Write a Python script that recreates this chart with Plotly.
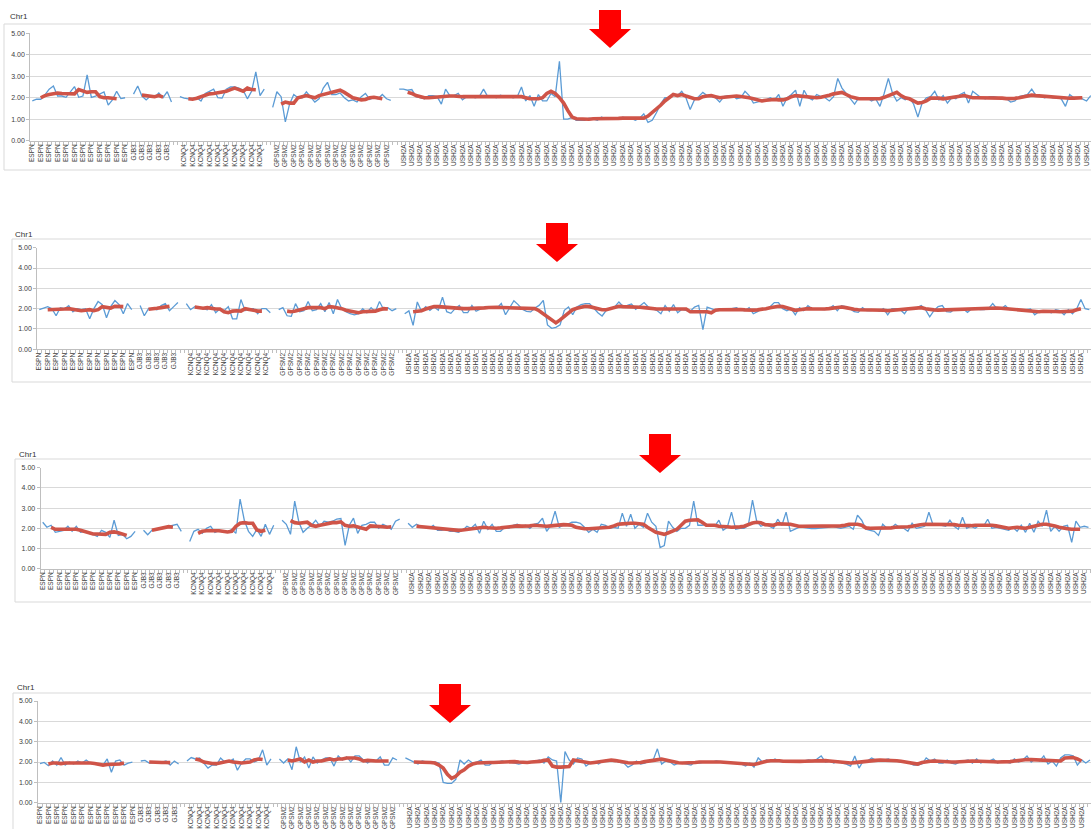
import plotly.graph_objects as go

# ---------------- data ----------------
GENES = ["ESPN", "GJB3", "KCNQ4", "GPSM2", "USH2A"]
GENE_START = [0, 24, 35, 57, 87]   # first category slot of each gene (one empty slot between genes)
AVG_OFFSET = 2                     # the moving-average line starts 2 slots into each gene
Y_TICKS = [0, 1, 2, 3, 4, 5]
Y_TICK_TEXT = ["0.00", "1.00", "2.00", "3.00", "4.00", "5.00"]
PANEL_TITLE = "Chr1"

# ---- panel 1 ----
P1_ESPN = [1.85, 1.93, 1.93, 2.13, 2.4, 2.55, 2.08, 2.08, 2.02, 2.28, 2.52, 2.02, 2.08, 3.06, 2.02, 2.08, 2.17, 2.27, 1.66, 1.9, 2.3, 1.96, 2.0]
P1_ESPN_AVG = [2.0, 2.1, 2.15, 2.2, 2.22, 2.2, 2.2, 2.18, 2.18, 2.38, 2.32, 2.25, 2.28, 2.28, 2.05, 2.0, 2.0, 1.98, 1.95]
P1_GJB3 = [2.17, 2.55, 2.08, 1.9, 2.08, 2.02, 2.22, 2.0, 2.28, 1.8]
P1_GJB3_AVG = [2.12, 2.1, 2.05, 2.05, 2.1, 2.03]
P1_KCNQ4 = [2.05, 1.98, 1.95, 1.98, 2.0, 1.85, 2.2, 2.3, 2.4, 2.0, 1.98, 2.4, 2.5, 2.5, 2.45, 2.35, 1.95, 2.3, 3.2, 2.1, 2.4]
P1_KCNQ4_AVG = [1.95, 1.93, 1.98, 2.05, 2.15, 2.18, 2.2, 2.22, 2.25, 2.3, 2.38, 2.45, 2.38, 2.3, 2.45, 2.38, 2.37]
P1_GPSM2 = [1.55, 2.28, 2.05, 0.88, 1.7, 2.15, 2.0, 2.0, 2.28, 2.05, 1.8, 1.95, 2.45, 2.72, 2.15, 2.15, 2.22, 2.0, 1.85, 1.9,
            1.8, 2.05, 2.2, 1.92, 2.0, 1.95, 2.15, 1.95, 1.88]
P1_GPSM2_AVG = [1.7, 1.8, 1.75, 1.75, 2.0, 2.05, 2.1, 2.05, 2.0, 2.1, 2.15, 2.2, 2.25, 2.3, 2.35, 2.25, 2.1, 2.0, 1.95, 1.9,
                1.92, 2.0, 2.02, 1.98, 1.95]
P1_USH2A = [2.4,
            2.4, 2.35, 2.38, 2.05, 2.0, 1.95, 2.1, 2.1, 2.05, 1.7, 2.4, 2.1,
            2.1, 2.2, 1.9, 2.05, 2.1, 2.0, 2.05, 2.4, 2.05, 2.1,
            2.0, 2.12, 2.05, 2.08, 2.0, 2.05, 2.5, 1.85, 2.1, 1.6,
            2.15, 1.85, 1.85, 2.2, 2.05, 3.7, 1.0, 1.0, 1.08, 0.95,
            0.95, 0.95, 1.05, 1.02, 0.95, 1.1, 1.0, 1.0, 1.05, 1.0,
            1.1, 1.05, 1.05, 0.95, 1.05, 1.25, 0.85, 0.95, 1.3, 1.7,
            2.0, 2.0, 2.15, 2.1, 2.3, 2.0, 1.45, 1.9, 2.05, 2.25,
            2.1, 2.05, 2.0, 1.8, 2.05, 2.1, 2.1, 1.95, 2.0, 2.3,
            2.1, 1.75, 1.8, 1.85, 1.9, 2.0, 1.9, 2.15, 1.6, 2.0,
            2.15, 2.35, 1.6, 2.35, 2.0, 1.9, 2.15, 2.05, 2.0, 1.85,
            2.05, 2.9, 2.45, 2.2, 1.95, 1.7, 2.0, 1.95, 2.0, 1.85,
            1.95, 1.6, 2.2, 2.9, 2.2, 1.85, 2.0, 1.9, 2.0, 1.7,
            1.1, 1.75, 2.0, 2.05, 2.3, 1.9, 2.1, 1.75, 2.0, 1.95,
            2.15, 2.25, 1.75, 2.3, 2.15, 2.0, 1.95, 2.05, 2.05, 2.0,
            2.0, 1.95, 1.8, 1.85, 2.05, 2.1, 2.15, 2.4, 2.1, 2.1,
            2.0, 2.05, 2.0, 2.0, 1.95, 1.6, 2.15, 2.0, 2.0, 1.95,
            1.85, 2.1]
P1_USH2A_AVG = [2.25,
                2.2, 2.1, 2.05, 2.0, 2.0, 2.02, 2.05, 2.05, 2.08, 2.08,
                2.08, 2.05, 2.05, 2.05, 2.05, 2.07, 2.08, 2.08, 2.08, 2.08,
                2.07, 2.06, 2.05, 2.05, 2.05, 2.05, 2.05, 2.0, 1.95, 1.95,
                1.95, 2.0, 2.2, 2.3, 2.2, 2.0, 1.75, 1.4, 1.1, 1.02,
                1.0, 1.0, 1.0, 1.02, 1.02, 1.0, 1.02, 1.03, 1.03, 1.04,
                1.05, 1.05, 1.03, 1.05, 1.05, 1.05, 1.15, 1.3, 1.5, 1.65,
                1.85, 2.0, 2.15, 2.1, 2.15, 2.08, 2.0, 1.95, 1.95, 2.05,
                2.08, 2.1, 2.05, 2.0, 2.02, 2.05, 2.07, 2.08, 2.06, 2.05,
                2.0, 1.95, 1.9, 1.85, 1.88, 1.92, 1.92, 1.9, 1.9, 1.95,
                2.05, 2.1, 2.08, 2.08, 2.04, 2.0, 2.0, 2.02, 2.05, 2.12,
                2.18, 2.22, 2.25, 2.15, 2.05, 2.0, 1.95, 1.95, 1.95, 1.93,
                1.92, 1.95, 2.02, 2.1, 2.2, 2.25, 2.1, 2.0, 1.95, 1.85,
                1.75, 1.78, 1.85, 1.98, 2.0, 1.98, 1.95, 1.98, 2.0, 2.03,
                2.06, 2.1, 2.05, 2.0, 2.0, 2.0, 2.0, 2.02, 2.02, 2.0,
                1.98, 1.96, 1.95, 1.97, 2.0, 2.05, 2.1, 2.12, 2.1, 2.08,
                2.06, 2.04, 2.03, 2.01, 1.98, 1.98, 1.98, 1.98, 1.99, 2.0]

# ---- panel 2 ----
P2_ESPN = [1.95, 2.02, 2.1, 2.0, 1.65, 2.05, 2.0, 2.15, 1.85, 2.0, 1.95, 2.0, 1.5, 2.0, 2.35, 2.2, 1.55, 2.1, 2.4, 2.2, 1.75, 2.25, 1.95]
P2_ESPN_AVG = [1.95, 1.95, 1.95, 1.95, 1.98, 2.0, 1.97, 1.95, 1.9, 1.92, 1.95, 1.9, 1.95, 2.1, 2.08, 2.03, 2.12, 2.12, 2.1]
P2_GJB3 = [2.15, 1.65, 2.0, 2.0, 1.95, 2.15, 2.25, 1.9, 2.1, 2.3]
P2_GJB3_AVG = [1.97, 1.98, 2.02, 2.05, 2.08, 2.12]
P2_KCNQ4 = [2.25, 1.95, 2.1, 2.05, 2.0, 1.95, 2.2, 1.8, 2.0, 1.9, 2.1, 1.5, 1.5, 2.45, 1.9, 2.0, 2.0, 1.75, 2.0, 2.0, 1.8]
P2_KCNQ4_AVG = [2.08, 2.05, 2.02, 2.05, 2.0, 1.98, 1.98, 1.85, 1.8, 1.88, 1.9, 1.88, 2.0, 1.95, 1.9, 1.88, 1.88]
P2_GPSM2 = [1.95, 2.05, 1.65, 1.62, 2.25, 1.85, 1.9, 2.35, 1.9, 1.95, 2.25, 1.85, 2.3, 1.75, 2.45, 2.0, 1.85, 1.75, 1.7, 1.75,
            2.0, 1.8, 2.05, 1.85, 2.35, 1.95, 2.05, 1.9, 2.0]
P2_GPSM2_AVG = [1.88, 1.85, 1.88, 1.92, 2.0, 2.05, 2.05, 2.02, 2.05, 2.0, 2.1, 2.08, 2.05, 2.0, 1.92, 1.88, 1.82, 1.8, 1.85, 1.85,
                1.85, 1.88, 1.95, 2.0, 1.98]
P2_USH2A = [1.75, 1.89, 1.18, 2.33, 1.87, 2.1, 1.92, 2.08, 1.92, 2.57, 1.85, 1.77, 2.0,
            2.16, 1.8, 1.8, 2.16, 1.87, 1.97, 2.08, 2.03, 2.08, 2.03,
            2.25, 1.7, 2.08, 2.39, 2.2, 1.97, 1.87, 1.84, 2.03, 2.16,
            2.41, 1.2, 1.03, 1.08, 1.2, 1.92, 2.08, 1.7, 2.08, 2.2,
            2.25, 2.25, 2.03, 1.8, 1.64, 1.92, 2.0, 2.08, 2.33, 2.11,
            2.16, 2.23, 1.97, 2.16, 2.3, 2.08, 2.0, 1.92, 1.75, 2.16,
            1.87, 2.2, 1.8, 1.97, 1.92, 1.87, 2.08, 2.16, 0.97, 2.08,
            2.0, 1.92, 2.0, 1.95, 1.97, 2.0, 2.05, 1.92, 1.9, 2.05,
            1.75, 1.85, 1.98, 1.95, 2.1, 2.3, 2.3, 2.0, 1.9, 2.0,
            1.7, 2.05, 1.9, 2.15, 2.0, 1.98, 1.98, 1.95, 2.0, 2.15,
            1.9, 2.15, 2.1, 2.0, 1.85, 1.82, 2.05, 1.9, 1.9, 1.95,
            1.88, 2.0, 1.7, 2.0, 2.0, 1.95, 1.75, 2.05, 2.0, 2.05,
            2.15, 1.95, 1.6, 1.9, 2.1, 2.15, 1.85, 1.83, 2.0, 2.0,
            1.98, 1.82, 2.0, 2.0, 1.95, 1.95, 2.0, 2.25, 2.0, 2.0,
            2.15, 1.95, 1.95, 1.95, 1.92, 1.95, 1.98, 1.7, 1.85, 1.9,
            1.85, 1.8, 1.95, 1.9, 1.7, 1.95, 1.75, 2.0, 2.45, 2.0,
            1.95]
P2_USH2A_AVG = [1.85,
                1.87, 1.9, 1.98, 2.05, 2.1, 2.1, 2.08, 2.05, 2.03, 2.0,
                2.0, 2.0, 2.0, 2.0, 2.0, 2.02, 2.04, 2.06, 2.08, 2.07,
                2.06, 2.05, 2.05, 2.05, 2.05, 2.03, 2.0, 1.98, 2.0, 1.9,
                1.75, 1.6, 1.4, 1.3, 1.45, 1.62, 1.8, 1.95, 2.02, 2.08,
                2.12, 2.1, 2.05, 1.98, 1.95, 1.95, 2.02, 2.08, 2.12, 2.1,
                2.1, 2.1, 2.1, 2.07, 2.05, 2.02, 1.98, 1.98, 1.98, 1.98,
                1.98, 1.98, 1.98, 1.98, 1.98, 1.85, 1.85, 1.85, 1.85, 1.85,
                1.8, 1.92, 1.95, 1.96, 1.97, 1.98, 1.98, 1.96, 1.94, 1.92,
                1.93, 1.94, 1.96, 2.0, 2.05, 2.1, 2.12, 2.1, 2.03, 1.97,
                1.92, 1.95, 1.98, 2.0, 1.99, 1.98, 1.98, 1.98, 2.0, 2.04,
                2.06, 2.08, 2.05, 2.0, 1.97, 1.95, 1.95, 1.95, 1.95, 1.94,
                1.93, 1.92, 1.9, 1.92, 1.95, 1.97, 1.98, 1.99, 2.0, 2.03,
                2.05, 2.0, 1.95, 1.94, 1.93, 1.94, 1.95, 1.96, 1.97, 1.97,
                1.97, 1.98, 1.98, 1.99, 1.99, 2.0, 2.01, 2.02, 2.03, 2.02,
                2.0, 1.99, 1.98, 1.97, 1.95, 1.93, 1.9, 1.87, 1.85, 1.87,
                1.88, 1.87, 1.86, 1.85, 1.85, 1.85, 1.88, 1.95, 2.0]

# ---- panel 3 ----
P3_ESPN = [2.3, 2.05, 2.15, 1.8, 1.85, 1.9, 2.1, 1.85, 2.1, 1.8, 1.85, 1.75, 1.7, 1.6, 1.9, 1.8, 1.55, 2.4, 1.65, 1.7, 1.48, 1.6, 1.85]
P3_ESPN_AVG = [2.05, 1.95, 1.95, 1.93, 1.95, 1.95, 1.95, 1.9, 1.85, 1.8, 1.72, 1.72, 1.72, 1.7, 1.8, 1.82, 1.78, 1.72, 1.65]
P3_GJB3 = [1.9, 1.68, 1.9, 1.95, 2.0, 2.05, 2.1, 2.15, 2.2, 1.85]
P3_GJB3_AVG = [1.9, 1.95, 2.0, 2.05, 2.08, 2.05]
P3_KCNQ4 = [1.35, 1.85, 1.95, 1.75, 2.0, 2.1, 1.8, 1.9, 1.85, 1.8, 1.95, 1.75, 3.45, 2.4, 1.85, 1.6, 1.95, 1.6, 2.2, 1.7, 2.15]
P3_KCNQ4_AVG = [1.75, 1.85, 1.88, 1.9, 1.88, 1.88, 1.85, 1.82, 1.85, 2.1, 2.25, 2.28, 2.25, 2.25, 1.92, 1.85, 1.9]
P3_GPSM2 = [2.4, 2.2, 1.7, 3.35, 2.3, 1.8, 2.0, 2.15, 2.4, 2.1, 2.35, 2.3, 2.35, 2.45, 2.48, 1.15, 2.15, 2.5, 1.75, 2.15,
            2.2, 2.3, 2.3, 2.0, 2.2, 2.1, 1.95, 2.35, 2.45]
P3_GPSM2_AVG = [2.38, 2.28, 2.25, 2.28, 2.3, 2.15, 2.1, 2.15, 2.2, 2.25, 2.28, 2.28, 2.32, 2.15, 2.1, 2.12, 2.05, 1.98, 1.95, 2.12,
                2.12, 2.1, 2.08, 2.05, 2.08]
P3_USH2A = [2.25, 2.05, 2.2, 2.1, 2.05, 2.0, 2.15, 1.9, 1.9, 1.95, 1.85, 1.85, 1.8,
            1.9, 2.1, 2.0, 2.2, 1.75, 2.35, 1.95, 2.2, 1.85, 1.85,
            2.05, 2.0, 2.15, 2.2, 2.1, 2.15, 2.0, 2.2, 2.25, 2.5,
            1.85, 2.15, 2.85, 2.05, 2.15, 2.2, 2.3, 2.3, 2.25, 2.05,
            1.8, 1.95, 1.8, 2.2, 2.15, 2.0, 2.05, 2.0, 2.75, 2.1,
            2.7, 2.0, 2.2, 2.05, 2.75, 2.3, 2.1, 1.05, 1.15, 2.35,
            2.05, 1.85, 2.0, 2.0, 2.15, 3.35, 2.15, 2.15, 2.2, 2.1,
            2.1, 2.4, 1.9, 2.05, 2.8, 1.95, 2.0, 2.0, 2.15, 3.4,
            2.35, 2.1, 2.2, 2.1, 2.0, 2.45, 2.15, 2.8, 1.85, 1.95,
            2.05, 2.05, 2.0, 1.98, 1.98, 2.0, 2.0, 2.05, 2.1, 2.05,
            2.0, 2.05, 2.1, 1.95, 2.65, 2.4, 1.95, 1.9, 1.85, 1.65,
            2.2, 2.0, 2.0, 2.2, 2.05, 2.0, 1.85, 2.25, 2.0, 2.05,
            2.1, 2.8, 2.15, 2.15, 2.15, 2.1, 2.4, 2.1, 1.95, 2.55,
            2.0, 2.1, 2.0, 2.15, 2.1, 2.45, 2.0, 2.05, 2.0, 1.98,
            1.9, 2.05, 1.85, 2.15, 1.8, 2.25, 1.8, 2.35, 2.1, 2.9,
            1.85, 2.1, 1.85, 2.1, 2.15, 1.3, 2.35, 2.05, 2.1, 2.05]
P3_USH2A_AVG = [2.1,
                2.08, 2.05, 2.04, 2.02, 2.0, 1.98, 1.95, 1.93, 1.92, 1.9,
                1.92, 1.95, 1.97, 2.0, 2.02, 2.05, 2.03, 2.0, 2.0, 2.02,
                2.05, 2.08, 2.1, 2.12, 2.11, 2.1, 2.12, 2.15, 2.13, 2.11,
                2.1, 2.12, 2.15, 2.17, 2.18, 2.17, 2.15, 2.05, 2.0, 1.98,
                1.98, 1.99, 2.0, 2.02, 2.04, 2.05, 2.12, 2.2, 2.22, 2.25,
                2.25, 2.25, 2.23, 2.2, 2.05, 1.9, 1.8, 1.75, 1.7, 1.78,
                1.85, 1.95, 2.15, 2.35, 2.4, 2.4, 2.42, 2.3, 2.15, 2.15,
                2.15, 2.1, 2.1, 2.08, 2.05, 2.05, 2.07, 2.1, 2.2, 2.26,
                2.3, 2.28, 2.18, 2.15, 2.15, 2.22, 2.22, 2.2, 2.2, 2.15,
                2.1, 2.1, 2.1, 2.09, 2.08, 2.09, 2.1, 2.12, 2.12, 2.12,
                2.12, 2.15, 2.2, 2.2, 2.2, 2.15, 2.02, 2.0, 2.0, 2.0,
                2.0, 2.0, 2.02, 2.05, 2.05, 2.05, 2.08, 2.1, 2.15, 2.18,
                2.2, 2.2, 2.18, 2.18, 2.19, 2.2, 2.2, 2.18, 2.15, 2.13,
                2.12, 2.13, 2.15, 2.16, 2.17, 2.18, 2.15, 2.12, 2.08, 2.03,
                2.0, 2.03, 2.05, 2.02, 2.0, 2.05, 2.1, 2.15, 2.2, 2.2,
                2.18, 2.12, 2.05, 2.0, 1.98, 1.95, 1.95, 1.95]

# ---- panel 4 ----
P4_ESPN = [1.92, 1.98, 1.82, 2.05, 1.85, 2.22, 1.85, 2.0, 1.9, 2.05, 1.95, 2.1, 1.95, 1.95, 1.9, 1.85, 2.15, 1.5, 2.05, 2.1, 1.85, 1.95, 2.0]
P4_ESPN_AVG = [1.9, 1.95, 1.95, 1.92, 1.95, 1.95, 1.95, 1.97, 1.98, 1.98, 1.95, 1.93, 1.9, 1.85, 1.88, 1.88, 1.92, 1.9, 1.95]
P4_GJB3 = [2.05, 2.08, 1.95, 1.98, 2.0, 2.0, 2.05, 1.85, 2.05, 1.9]
P4_GJB3_AVG = [2.0, 1.98, 2.0, 1.98, 1.98, 1.97]
P4_KCNQ4 = [2.05, 2.22, 2.15, 2.2, 1.95, 1.7, 1.85, 1.85, 2.2, 2.0, 2.0, 2.15, 1.6, 1.95, 2.15, 2.15, 2.0, 2.1, 2.6, 1.85, 2.15]
P4_KCNQ4_AVG = [2.15, 2.1, 2.0, 1.95, 1.93, 1.92, 1.95, 2.02, 2.05, 2.0, 1.98, 1.95, 1.98, 2.0, 2.1, 2.15, 2.12]
P4_GPSM2 = [2.15, 1.95, 2.15, 1.62, 2.75, 2.0, 2.25, 1.7, 2.25, 1.95, 2.1, 2.2, 2.2, 1.8, 2.3, 2.1, 2.25, 2.0, 2.3, 2.3,
            2.1, 1.95, 2.1, 2.05, 2.25, 1.85, 1.85, 2.2, 2.1]
P4_GPSM2_AVG = [2.1, 2.05, 2.1, 2.15, 2.0, 2.1, 2.0, 2.05, 2.05, 2.1, 2.15, 2.1, 2.15, 2.15, 2.2, 2.2, 2.2, 2.15, 2.05, 2.08,
                2.05, 2.05, 2.05, 2.05, 2.05]
P4_USH2A = [2.2, 2.1, 2.0, 1.9, 2.05, 2.0, 1.95, 2.0, 1.95, 1.0, 0.95, 0.95, 1.15,
            2.1, 1.9, 2.1, 1.95, 2.0, 2.1, 1.85, 1.85, 2.0, 2.0,
            2.05, 2.0, 2.0, 1.95, 1.9, 1.95, 2.0, 2.0, 2.05, 2.1,
            1.95, 2.25, 2.1, 2.05, 0.0, 2.52, 2.1, 1.9, 2.2, 2.15,
            1.8, 1.95, 2.0, 1.9, 2.05, 2.1, 2.05, 2.05, 1.98, 1.95,
            1.75, 1.85, 2.05, 1.9, 1.95, 2.05, 2.1, 2.65, 1.9, 2.05,
            2.0, 1.85, 1.95, 1.95, 1.9, 1.85, 2.0, 1.95, 2.0, 2.0,
            2.0, 2.05, 2.0, 1.98, 1.95, 1.93, 1.95, 1.9, 1.8, 1.95,
            1.75, 2.2, 2.0, 2.1, 2.05, 2.15, 2.05, 2.0, 2.0, 2.0,
            2.0, 2.05, 2.05, 2.1, 2.05, 2.15, 2.3, 2.0, 2.05, 1.95,
            2.05, 1.95, 1.9, 1.8, 2.3, 1.7, 2.05, 2.05, 2.2, 2.1,
            2.1, 2.1, 2.15, 2.05, 2.05, 2.0, 2.0, 1.95, 1.85, 1.85,
            1.9, 2.2, 2.05, 2.15, 1.95, 1.95, 2.1, 1.95, 1.9, 2.0,
            2.05, 2.1, 1.95, 2.15, 1.95, 2.05, 2.05, 2.15, 1.95, 2.05,
            2.0, 1.95, 2.15, 2.0, 2.1, 2.3, 2.0, 2.15, 2.05, 2.3,
            1.9, 2.05, 1.8, 2.2, 2.35, 2.35, 2.3, 1.85, 2.1, 1.95,
            2.1]
P4_USH2A_AVG = [2.0,
                2.0, 2.0, 2.0, 1.98, 1.95, 1.85, 1.7, 1.4, 1.2, 1.3,
                1.5, 1.62, 1.8, 1.9, 1.95, 1.97, 1.98, 1.98, 1.98, 1.99,
                2.0, 2.02, 2.02, 2.02, 2.0, 1.98, 1.98, 2.0, 2.0, 2.03,
                2.08, 2.1, 1.8, 1.75, 1.75, 1.75, 1.78, 2.1, 2.07, 2.03,
                1.98, 1.95, 1.98, 2.0, 2.03, 2.06, 2.1, 2.07, 2.02, 2.0,
                1.96, 1.95, 1.95, 1.98, 2.02, 2.06, 2.1, 2.13, 2.14, 2.1,
                2.05, 2.0, 1.96, 1.95, 1.95, 1.96, 1.98, 2.0, 2.01, 2.02,
                2.01, 2.0, 2.0, 1.98, 1.97, 1.95, 1.93, 1.91, 1.88, 1.88,
                1.88, 1.93, 2.0, 2.04, 2.06, 2.08, 2.06, 2.04, 2.03, 2.03,
                2.03, 2.03, 2.04, 2.05, 2.07, 2.09, 2.1, 2.07, 2.05, 2.03,
                2.0, 1.98, 1.96, 1.95, 1.97, 2.0, 2.02, 2.04, 2.06, 2.08,
                2.1, 2.1, 2.1, 2.08, 2.06, 2.04, 2.01, 1.98, 1.93, 1.9,
                1.98, 2.02, 2.04, 2.05, 2.03, 2.01, 2.0, 2.0, 2.0, 2.0,
                2.02, 2.04, 2.05, 2.05, 2.04, 2.03, 2.02, 2.01, 2.0, 2.0,
                2.01, 2.02, 2.05, 2.08, 2.1, 2.12, 2.12, 2.11, 2.1, 2.08,
                2.06, 2.05, 2.05, 2.05, 2.2, 2.2, 2.22, 2.15, 2.05]

PANEL_SERIES = [
    ([P1_ESPN, P1_GJB3, P1_KCNQ4, P1_GPSM2, P1_USH2A],
     [P1_ESPN_AVG, P1_GJB3_AVG, P1_KCNQ4_AVG, P1_GPSM2_AVG, P1_USH2A_AVG]),
    ([P2_ESPN, P2_GJB3, P2_KCNQ4, P2_GPSM2, P2_USH2A],
     [P2_ESPN_AVG, P2_GJB3_AVG, P2_KCNQ4_AVG, P2_GPSM2_AVG, P2_USH2A_AVG]),
    ([P3_ESPN, P3_GJB3, P3_KCNQ4, P3_GPSM2, P3_USH2A],
     [P3_ESPN_AVG, P3_GJB3_AVG, P3_KCNQ4_AVG, P3_GPSM2_AVG, P3_USH2A_AVG]),
    ([P4_ESPN, P4_GJB3, P4_KCNQ4, P4_GPSM2, P4_USH2A],
     [P4_ESPN_AVG, P4_GJB3_AVG, P4_KCNQ4_AVG, P4_GPSM2_AVG, P4_USH2A_AVG]),
]

# ---------------- layout (pixel geometry of each panel) ----------------
W, H = 1091, 829
BLUE = "#5b9bd5"
RED = "#cf5448"
GRID = "#d9d9d9"
AXIS = "#bfbfbf"
TXT = "#404040"
FONT = "Liberation Sans, Arial, sans-serif"

LAYOUT_PX = [
    dict(axis_x=30.2, step=4.217, y_top=33.3, y_bot=140.7, frame=(4, 24, 170), title=(8, 17), arrow=(610, 10, 29, 48)),
    dict(axis_x=37.2, step=4.2, y_top=247.7, y_bot=349.3, frame=(12, 239, 382), title=(12.5, 234), arrow=(557, 223, 244, 262)),
    dict(axis_x=40.6, step=4.2, y_top=467.7, y_bot=568.7, frame=(15, 459, 602), title=(16.5, 454), arrow=(660, 434, 455, 473)),
    dict(axis_x=37.9, step=4.2, y_top=701.0, y_bot=802.7, frame=(13, 693, 840), title=(15, 687), arrow=(450, 684, 705, 723)),
]


def fx(px):
    return px / W


def fy(py):
    return 1 - py / H


def label_at(i):
    name = ""
    for g, s in zip(GENES, GENE_START):
        if i >= s:
            name = g
    # empty slot just before each gene start (except first) gets no label
    if i + 1 in GENE_START[1:]:
        return ""
    return name


fig = go.Figure()
shapes = []
annotations = []
layout_axes = {}

for k, (blues, avgs) in enumerate(PANEL_SERIES):
    sfx = "" if k == 0 else str(k + 1)
    g = LAYOUT_PX[k]
    for gi, vals in enumerate(blues):
        s = GENE_START[gi]
        fig.add_trace(go.Scatter(
            x=list(range(s, s + len(vals))), y=vals, mode="lines",
            line=dict(color=BLUE, width=1.3), hoverinfo="skip", showlegend=False,
            xaxis="x" + sfx, yaxis="y" + sfx))
    for gi, avg in enumerate(avgs):
        s = GENE_START[gi] + AVG_OFFSET
        fig.add_trace(go.Scatter(
            x=list(range(s, s + len(avg))), y=avg, mode="lines",
            line=dict(color=RED, width=3.6), hoverinfo="skip", showlegend=False,
            xaxis="x" + sfx, yaxis="y" + sfx))

    x_end = -0.5 + (W - g["axis_x"]) / g["step"]
    tickvals = list(range(0, int(x_end) + 1, 2))
    ticktext = [label_at(i) for i in tickvals]

    layout_axes["xaxis" + sfx] = dict(
        domain=[fx(g["axis_x"]), 1], range=[-0.5, x_end], anchor="y" + sfx,
        tickmode="array", tickvals=tickvals, ticktext=ticktext, tickangle=-90,
        tickfont=dict(size=6.5, color=TXT, family=FONT),
        showgrid=False, zeroline=False, showline=True, linecolor=AXIS, linewidth=1,
        ticks="", minor=dict(ticks="outside", ticklen=3, tickcolor=AXIS, tick0=-0.5, dtick=1, showgrid=False),
        automargin=False, fixedrange=True)
    layout_axes["yaxis" + sfx] = dict(
        domain=[fy(g["y_bot"]), fy(g["y_top"])], range=[0, 5], anchor="x" + sfx,
        tickmode="array", tickvals=Y_TICKS, ticktext=Y_TICK_TEXT,
        tickfont=dict(size=7, color=TXT, family=FONT),
        showgrid=True, gridcolor=GRID, gridwidth=1, zeroline=False,
        showline=True, linecolor=AXIS, linewidth=1, ticks="outside", ticklen=3, tickcolor=AXIS,
        automargin=False, fixedrange=True)

    # chart frame
    fx0, fy0, fy1 = g["frame"]
    shapes.append(dict(type="rect", xref="paper", yref="paper",
                       x0=fx(fx0), x1=fx(W + 20), y0=fy(fy1), y1=fy(fy0),
                       line=dict(color=GRID, width=1), fillcolor="rgba(0,0,0,0)", layer="below"))
    # title
    tx, ty = g["title"]
    annotations.append(dict(text=PANEL_TITLE, xref="paper", yref="paper", x=fx(tx), y=fy(ty),
                            xanchor="left", yanchor="middle", showarrow=False,
                            font=dict(size=8, color="#333333", family=FONT)))
    # red block arrow
    cx, st, ht, tip = g["arrow"]
    sw, hw = 11, 21
    pts = [(cx - sw, st), (cx + sw, st), (cx + sw, ht), (cx + hw, ht), (cx, tip),
           (cx - hw, ht), (cx - sw, ht)]
    path = "M " + " L ".join(f"{fx(px):.5f},{fy(py):.5f}" for px, py in pts) + " Z"
    shapes.append(dict(type="path", xref="paper", yref="paper", path=path,
                       fillcolor="#ff0000", line=dict(color="#ff0000", width=0), layer="above"))

fig.update_layout(
    width=W, height=H, margin=dict(l=0, r=0, t=0, b=0),
    paper_bgcolor="white", plot_bgcolor="white",
    font=dict(family=FONT, color=TXT),
    shapes=shapes, annotations=annotations, showlegend=False,
    **layout_axes)

fig.write_html("out.html", config={"displayModeBar": False})
